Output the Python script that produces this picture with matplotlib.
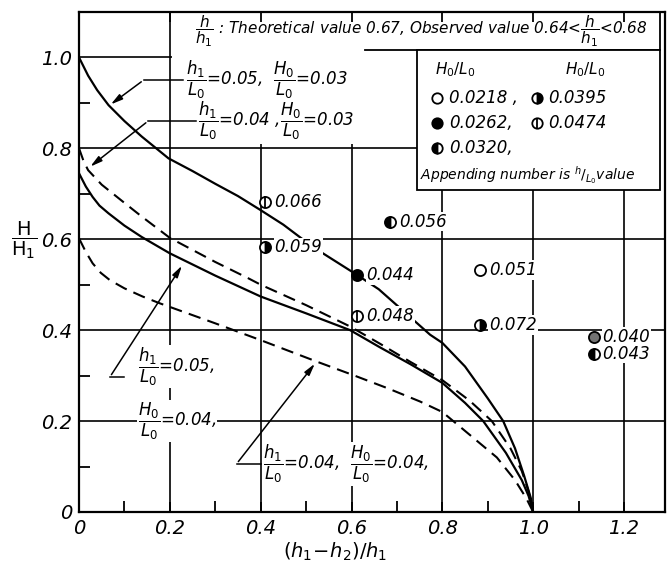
import numpy as np
import matplotlib.pyplot as plt
from matplotlib.patches import Rectangle

# -------------------------
# Data
# -------------------------

# solid, h1/L0=0.05, H0/L0=0.03
c1_x = [0, 0.02, 0.04, 0.065, 0.10, 0.138, 0.197, 0.25, 0.30, 0.35, 0.40, 0.45, 0.515,
        0.613, 0.66, 0.703, 0.773, 0.80, 0.85, 0.90, 0.934, 0.96, 0.98, 0.995, 1.0]
c1_y = [1.0, 0.96, 0.928, 0.895, 0.86, 0.826, 0.778, 0.75, 0.722, 0.695, 0.664, 0.632, 0.583,
        0.521, 0.49, 0.452, 0.39, 0.372, 0.32, 0.25, 0.20, 0.14, 0.08, 0.03, 0.0]

# dashed, h1/L0=0.04, H0/L0=0.03
c2_x = [0, 0.01, 0.02, 0.05, 0.10, 0.138, 0.20, 0.30, 0.373, 0.40, 0.50, 0.597, 0.663,
        0.73, 0.80, 0.86, 0.909, 0.95, 0.975, 0.99, 1.0]
c2_y = [0.80, 0.772, 0.752, 0.72, 0.68, 0.65, 0.603, 0.55, 0.514, 0.50, 0.455, 0.408, 0.37,
        0.33, 0.29, 0.245, 0.20, 0.14, 0.09, 0.045, 0.0]

# solid, h1/L0=0.05, H0/L0=0.04
c3_x = [0, 0.015, 0.03, 0.045, 0.065, 0.10, 0.138, 0.20, 0.30, 0.40, 0.50, 0.597, 0.663,
        0.73, 0.80, 0.85, 0.89, 0.94, 0.975, 0.99, 1.0]
c3_y = [0.745, 0.716, 0.693, 0.674, 0.657, 0.63, 0.605, 0.569, 0.52, 0.474, 0.437, 0.40, 0.362,
        0.325, 0.284, 0.24, 0.20, 0.13, 0.07, 0.035, 0.0]

# dashed, h1/L0=0.04, H0/L0=0.04
c4_x = [0, 0.015, 0.03, 0.048, 0.068, 0.10, 0.14, 0.178, 0.30, 0.40, 0.523, 0.604, 0.68,
        0.751, 0.80, 0.86, 0.92, 0.96, 0.985, 1.0]
c4_y = [0.602, 0.572, 0.547, 0.526, 0.51, 0.492, 0.474, 0.459, 0.415, 0.378, 0.331, 0.301,
        0.272, 0.243, 0.22, 0.17, 0.12, 0.07, 0.03, 0.0]

# observed points
obs_x = [0.41, 0.41, 0.685, 0.613, 0.613, 0.883, 0.883, 1.133, 1.133]
obs_y = [0.681, 0.582, 0.639, 0.521, 0.432, 0.532, 0.411, 0.386, 0.348]
obs_label = ["0.066", "0.059", "0.056", "0.044", "0.048", "0.051", "0.072", "0.040", "0.043"]
obs_kind = ["bar", "right", "left", "filled", "bar", "open", "right", "grey", "left"]

# legend: H0/L0 values and their symbols
leg_values = ["0.0218 ,", "0.0262,", "0.0320,", "0.0395", "0.0474"]
leg_kind = ["open", "filled", "left", "right", "bar"]

xticks = [0, 0.2, 0.4, 0.6, 0.8, 1.0, 1.2]
xtick_labels = ["0", "0.2", "0.4", "0.6", "0.8", "1.0", "1.2"]
yticks = [0, 0.2, 0.4, 0.6, 0.8, 1.0]
ytick_labels = ["0", "0.2", "0.4", "0.6", "0.8", "1.0"]


def draw_symbol(ax, x, y, kind, ms=8):
    kw = dict(ms=ms, mec="black", mew=1.3, zorder=6, ls="none")
    if kind == "open":
        ax.plot(x, y, "o", mfc="white", **kw)
    elif kind == "filled":
        ax.plot(x, y, "o", mfc="black", **kw)
    elif kind in ("left", "right"):
        ax.plot(x, y, "o", mfc="black", markerfacecoloralt="white",
                fillstyle=kind, **kw)
    elif kind == "bar":
        ax.plot(x, y, "o", mfc="white", **kw)
        ax.plot(x, y, "|", ms=ms, mec="black", mew=1.3, zorder=7)
    else:
        ax.plot(x, y, "o", mfc="0.45", **kw)


fig = plt.figure(figsize=(6.68, 5.73), dpi=100)
ax = fig.add_axes([0.1183, 0.1065, 0.877, 0.8726])
ax.set_xlim(0, 1.29)
ax.set_ylim(0, 1.10)

for s in ax.spines.values():
    s.set_linewidth(1.6)

# partial grid like the hand-drawn original
ax.vlines([0.2], 0, 1.1, color="black", lw=1.2, zorder=1)
ax.vlines([0.4, 0.6], 0, 0.81, color="black", lw=1.2, zorder=1)
ax.vlines([0.8, 1.0, 1.2], 0, 0.71, color="black", lw=1.2, zorder=1)
ax.hlines([0.2, 0.4, 0.6], 0, 1.29, color="black", lw=1.2, zorder=1)
ax.hlines([0.8], 0, 0.745, color="black", lw=1.2, zorder=1)
ax.hlines([1.0], 0, 0.205, color="black", lw=1.2, zorder=1)

ax.set_xticks(xticks)
ax.set_xticklabels(xtick_labels)
ax.set_yticks(yticks)
ax.set_yticklabels(ytick_labels)
ax.set_xticks(np.arange(0.1, 1.25, 0.2), minor=True)
ax.set_yticks(np.arange(0.1, 1.0, 0.2), minor=True)
ax.tick_params(which="major", direction="in", length=0, labelsize=14, pad=5)
ax.tick_params(which="minor", direction="in", length=8, width=1.3)
ax.tick_params(axis="x", which="major", top=True, length=7, width=1.3)
for lab in ax.get_xticklabels() + ax.get_yticklabels():
    lab.set_fontstyle("italic")

# theoretical curves
ax.plot(c1_x, c1_y, color="black", lw=1.6, zorder=3)
ax.plot(c2_x, c2_y, color="black", lw=1.5, dashes=(6, 3.5), zorder=3)
ax.plot(c3_x, c3_y, color="black", lw=1.6, zorder=3)
ax.plot(c4_x, c4_y, color="black", lw=1.5, dashes=(6, 3.5), zorder=3)

# observed points
white = dict(facecolor="white", edgecolor="none", pad=0.5)
for x, y, lab, kind in zip(obs_x, obs_y, obs_label, obs_kind):
    draw_symbol(ax, x, y, kind)
    ax.text(x + 0.02, y, lab, fontsize=12, style="italic", va="center",
            ha="left", bbox=white, zorder=5)

# leader lines and labels for the curves
arrow = dict(arrowstyle="-|>,head_length=0.7,head_width=0.18", color="black", lw=1.1)

ax.plot([0.142, 0.23], [0.95, 0.95], color="black", lw=1.1, zorder=4)
ax.annotate("", xy=(0.065, 0.893), xytext=(0.142, 0.95), arrowprops=arrow, zorder=4)
ax.text(0.236, 0.95, r"$\dfrac{h_1}{L_0}$=0.05,  $\dfrac{H_0}{L_0}$=0.03",
        fontsize=12, style="italic", va="center", ha="left", bbox=white, zorder=5)

ax.plot([0.152, 0.258], [0.86, 0.86], color="black", lw=1.1, zorder=4)
ax.annotate("", xy=(0.02, 0.756), xytext=(0.152, 0.86), arrowprops=arrow, zorder=4)
ax.text(0.262, 0.86, r"$\dfrac{h_1}{L_0}$=0.04 ,$\dfrac{H_0}{L_0}$=0.03",
        fontsize=12, style="italic", va="center", ha="left", bbox=white, zorder=5)

ax.plot([0.068, 0.10], [0.297, 0.297], color="black", lw=1.1, zorder=4)
ax.annotate("", xy=(0.23, 0.547), xytext=(0.068, 0.297), arrowprops=arrow, zorder=4)
ax.text(0.13, 0.32, r"$\dfrac{h_1}{L_0}$=0.05,", fontsize=12, style="italic",
        va="center", ha="left", bbox=white, zorder=5)
ax.text(0.13, 0.20, r"$\dfrac{H_0}{L_0}$=0.04,", fontsize=12, style="italic",
        va="center", ha="left", bbox=white, zorder=5)

ax.plot([0.347, 0.40], [0.106, 0.106], color="black", lw=1.1, zorder=4)
ax.annotate("", xy=(0.523, 0.331), xytext=(0.347, 0.106), arrowprops=arrow, zorder=4)
ax.text(0.405, 0.106, r"$\dfrac{h_1}{L_0}$=0.04,  $\dfrac{H_0}{L_0}$=0.04,",
        fontsize=12, style="italic", va="center", ha="left", bbox=white, zorder=5)

# heading text with its frame
ax.text(0.256, 1.058,
        r"$\dfrac{h}{h_1}$ : Theoretical value 0.67, Observed value 0.64<$\dfrac{h}{h_1}$<0.68",
        fontsize=11, style="italic", va="center", ha="left", zorder=5)
ax.plot([0.63, 1.28], [1.016, 1.016], color="black", lw=1.3, zorder=4)
ax.plot([1.28, 1.28], [1.016, 1.1], color="black", lw=1.3, zorder=4)

# legend box
ax.add_patch(Rectangle((0.744, 0.708), 1.28 - 0.744, 1.016 - 0.708,
                       facecolor="white", edgecolor="black", lw=1.3, zorder=4))
ax.text(0.828, 0.9725, r"$H_0/L_0$", fontsize=11, ha="center", va="center", zorder=5)
ax.text(1.115, 0.9725, r"$H_0/L_0$", fontsize=11, ha="center", va="center", zorder=5)
leg_pos = [(0.789, 0.911), (0.789, 0.856), (0.789, 0.801), (1.009, 0.911), (1.009, 0.856)]
for (lx, ly), val, kind in zip(leg_pos, leg_values, leg_kind):
    draw_symbol(ax, lx, ly, kind, ms=7.5)
    ax.text(lx + 0.025, ly, val, fontsize=12, style="italic", va="center",
            ha="left", zorder=6)
ax.text(0.751, 0.741, r"Appending number is $^h/_{L_0}$value", fontsize=10,
        style="italic", va="center", ha="left", zorder=6)

# axis titles
fig.text(0.036, 0.581, r"$\dfrac{\mathrm{H}}{\mathrm{H_1}}$", fontsize=14,
         ha="center", va="center")
fig.text(0.5015, 0.037, r"$(h_1\!-\!h_2)/h_1$", fontsize=14, ha="center", va="center")

fig.savefig("out.png", dpi=100)
